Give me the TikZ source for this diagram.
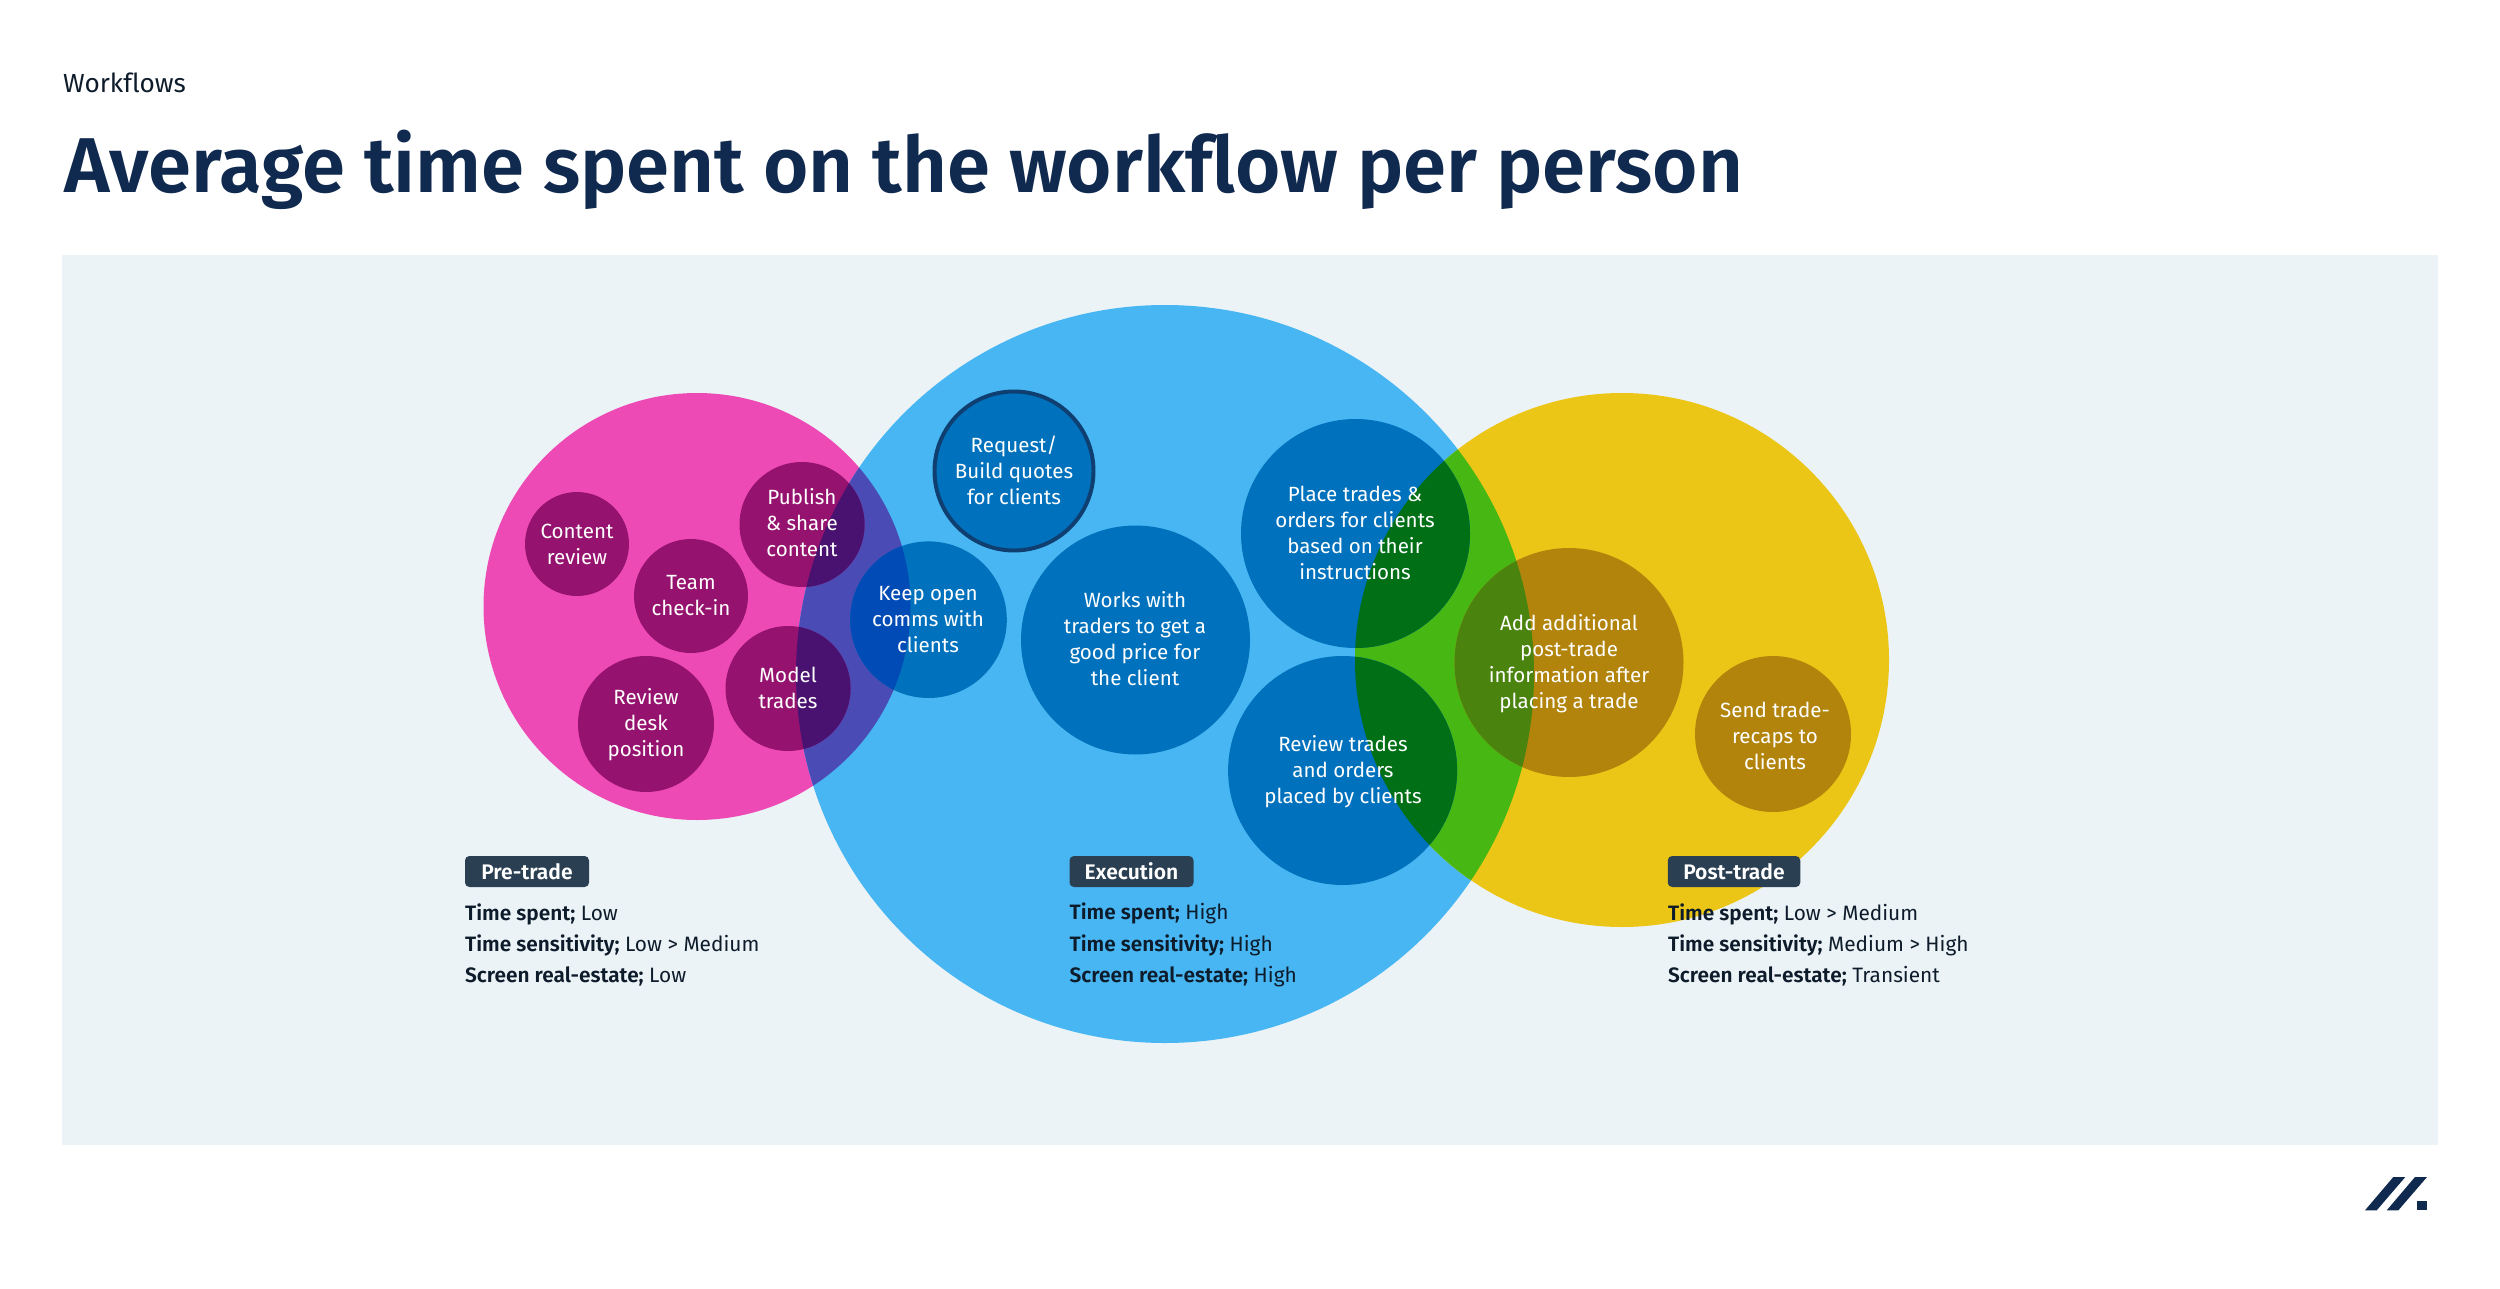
\documentclass[tikz,border=0pt]{standalone}
\usepackage{fontspec}
\setmainfont[BoldFont={Fira Sans SemiBold},Ligatures=NoCommon]{Fira Sans}
\definecolor{panel}{HTML}{EBF3F7}
\definecolor{pinkc}{HTML}{EE4AB5}
\definecolor{bluec}{HTML}{48B6F2}
\definecolor{yellowc}{HTML}{EBC617}
\definecolor{pinkblue}{HTML}{4A4BB5}
\definecolor{yellowblue}{HTML}{47B813}
\definecolor{dkpink}{HTML}{95136F}
\definecolor{dkblue}{HTML}{0071BC}
\definecolor{dkyellow}{HTML}{B2840C}
\definecolor{dkpurple}{HTML}{4A1270}
\definecolor{dkroyal}{HTML}{004BB5}
\definecolor{dkgreen}{HTML}{006F16}
\definecolor{dkolive}{HTML}{4A840F}
\definecolor{navy}{HTML}{10294F}
\definecolor{badge}{HTML}{2A3F52}
\definecolor{ink}{HTML}{0D1B2A}
\definecolor{ringc}{HTML}{0F3F70}
\newcommand{\pinkring}{(697,606.5) circle (213.5)}
\newcommand{\bluering}{(1165,674) circle (369)}
\newcommand{\yellowring}{(1622,660) circle (267)}
\newcommand{\publishring}{(802,524.5) circle (62.5)}
\newcommand{\modelring}{(788,688.5) circle (62.5)}
\newcommand{\keepring}{(928.5,619.7) circle (78.3)}
\newcommand{\placering}{(1355.5,533.5) circle (114.5)}
\newcommand{\reviewring}{(1342.6,770.5) circle (114.5)}
\newcommand{\addring}{(1569,662.5) circle (114.5)}
\begin{document}
\begin{tikzpicture}[x=0.04cm,y=-0.04cm,
  incircle/.style={text=white,align=center,font=\fontsize{23.4}{29.6}\selectfont},
  tag/.style={fill=badge,rounded corners=5pt,text=white,minimum height=31*0.04cm,inner sep=0pt,font=\fontsize{24}{26}\bfseries\selectfont},
  legend/.style={text=ink,anchor=west,inner sep=0pt,align=left,font=\fontsize{23.7}{35.6}\selectfont}]
\useasboundingbox (0,0) rectangle (2500,1289);
\fill[panel] (62,255) rectangle (2437.5,1145);
% big circles
\fill[pinkc] \pinkring;
\fill[bluec] \bluering;
\fill[yellowc] \yellowring;
\begin{scope}
\clip \pinkring;
\fill[pinkblue] \bluering;
\end{scope}
\begin{scope}
\clip \yellowring;
\fill[yellowblue] \bluering;
\end{scope}
% small circles
\fill[dkpink] (577,544) circle (52);
\fill[dkpink] (691,596) circle (57);
\fill[dkpink] (646,724) circle (68);
\fill[dkpink] \publishring;
\fill[dkpink] \modelring;
\fill[dkblue] \keepring;
\fill[dkblue] (1135.5,640) circle (114.5);
\fill[dkblue] \placering;
\fill[dkblue] \reviewring;
\fill[dkyellow] \addring;
\fill[dkyellow] (1773,734) circle (78);
\draw[ringc,fill=dkblue,line width=4.5pt] (1014,471) circle (79.5);
\begin{scope}
\clip \pinkring;
\clip \bluering;
\fill[dkpurple] \publishring;
\fill[dkpurple] \modelring;
\fill[dkroyal] \keepring;
\end{scope}
\begin{scope}
\clip \yellowring;
\clip \bluering;
\fill[dkgreen] \placering;
\fill[dkgreen] \reviewring;
\fill[dkolive] \addring;
\end{scope}
% texts
\node[anchor=west,inner sep=0pt,text=ink,font=\fontsize{29.8}{35}\selectfont] (kicker) at (63,83) {Workflows};
\node[anchor=west,inner sep=0pt,text=navy,font=\fontsize{88.5}{100}\bfseries\selectfont] (title) at (64,170) {Average time spent on the workflow per person};
\node[incircle] (content) at (577,544) {Content\\review};
\node[incircle] (team) at (691,596) {Team\\check-in};
\node[incircle] (publish) at (802,523) {Publish\\\& share\\content};
\node[incircle] (model) at (788,688) {Model\\trades};
\node[incircle] (desk) at (646,724.5) {Review\\desk\\position};
\node[incircle] (keep) at (928,619.5) {Keep open\\comms with\\clients};
\node[incircle] (request) at (1014,470) {Request/\\Build quotes\\for clients};
\node[incircle] (works) at (1135,639) {Works with\\traders to get a\\good price for\\the client};
\node[incircle] (place) at (1355,533) {Place trades \&\\orders for clients\\based on their\\instructions};
\node[incircle] (review) at (1343,771.5) {Review trades\\and orders\\placed by clients};
\node[incircle] (add) at (1569,663.5) {Add additional\\post-trade\\information after\\placing a trade};
\node[incircle] (send) at (1775,736) {Send trade-\\recaps to\\clients};
% legends
\node[tag,minimum width=124*0.04cm] (pre) at (527,871.5) {Pre-trade};
\node[tag,minimum width=124*0.04cm] (exec) at (1131.5,871.5) {Execution};
\node[tag,minimum width=132.5*0.04cm] (post) at (1734,871.5) {Post-trade};
\node[legend] (prelist) at (465,945) {\textbf{Time spent;} Low\\\textbf{Time sensitivity;} Low > Medium\\\textbf{Screen real-estate;} Low};
\node[legend] (execlist) at (1069.5,945) {\textbf{Time spent;} High\\\textbf{Time sensitivity;} High\\\textbf{Screen real-estate;} High};
\node[legend] (postlist) at (1668,945) {\textbf{Time spent;} Low > Medium\\\textbf{Time sensitivity;} Medium > High\\\textbf{Screen real-estate;} Transient};
% logo
\fill[navy] (2365,1210.3) -- (2376.7,1210.3) -- (2405.3,1177) -- (2393.3,1177) -- cycle;
\fill[navy] (2386.7,1210.3) -- (2398.3,1210.3) -- (2427,1177) -- (2415,1177) -- cycle;
\fill[navy] (2417.3,1201) rectangle (2427,1210.3);
\end{tikzpicture}
\end{document}
